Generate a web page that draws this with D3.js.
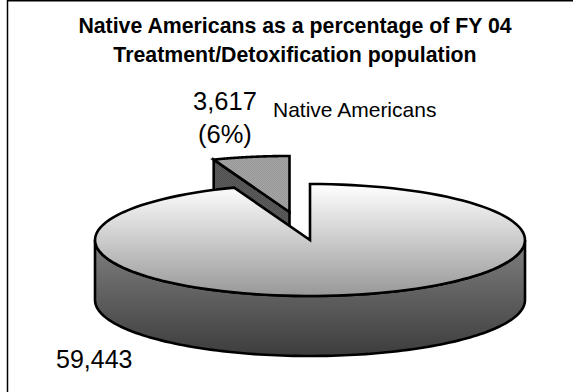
<!DOCTYPE html>
<html>
<head>
<meta charset="utf-8">
<script src="https://cdn.jsdelivr.net/npm/d3@7"></script>
<style>
html,body{margin:0;padding:0;background:#fff}
svg{display:block}
text{font-family:"Liberation Sans",Arial,sans-serif;fill:#000}
</style>
</head>
<body>
<svg id="chart" width="573" height="392"></svg>
<script>
// FY 04 Treatment/Detoxification population
const categories = ["Native Americans", "Other"];
const populations = [3617, 59443];
const valueLabels = ["3,617", "(6%)", "59,443"];
const titleLines = ["Native Americans as a percentage of FY 04", "Treatment/Detoxification population"];

const width = 573, height = 392;
const svg = d3.select("#chart");
const defs = svg.append("defs");

function linearGradient(id, stops, y1, y2) {
  const g = defs.append("linearGradient").attr("id", id)
    .attr("gradientUnits", "userSpaceOnUse")
    .attr("x1", 0).attr("x2", 0).attr("y1", y1).attr("y2", y2);
  stops.forEach(([o, c]) => g.append("stop").attr("offset", o).attr("stop-color", c));
}

function dotted(id, base, dot) {
  const p = defs.append("pattern").attr("id", id)
    .attr("patternUnits", "userSpaceOnUse").attr("width", 2).attr("height", 2);
  p.append("rect").attr("width", 2).attr("height", 2).attr("fill", base);
  p.append("rect").attr("width", 1).attr("height", 1).attr("fill", dot);
  p.append("rect").attr("x", 1).attr("y", 1).attr("width", 1).attr("height", 1).attr("fill", dot);
}

// Pie geometry: a tilted disc with an elliptical rim
const cx = 310, cy = 240, depth = 60;
const rx = d3.scaleLinear().domain([0, 1]).range([0, 215]);
const ry = d3.scaleLinear().domain([0, 1]).range([0, 56]);
const explode = { dx: -20.5, dy: -28 };

const slices = d3.pie().sort(null)
  .startAngle(-2 * Math.PI * populations[0] / d3.sum(populations))
  .endAngle(2 * Math.PI - 2 * Math.PI * populations[0] / d3.sum(populations))(populations);

const px = (a, ox = 0) => cx + ox + rx(Math.sin(a));
const py = (a, oy = 0) => cy + oy - ry(Math.cos(a));
const line = d3.line();
const rim = (a0, a1, ox = 0, oy = 0) =>
  d3.range(0, 121).map(i => {
    const a = a0 + (a1 - a0) * i / 120;
    return [px(a, ox), py(a, oy)];
  });

linearGradient("topFill", [[0, "#ffffff"], [1, "#989898"]], 184, 296);
linearGradient("sideFill", [[0, "#808080"], [1, "#3c3c3c"]], 240, 357);
dotted("sliceTop", "#a6a6a6", "#969696");
dotted("sliceWall", "#5c5c5c", "#505050");

const outline = { stroke: "#000", "stroke-width": 2.6, "stroke-linejoin": "miter" };
const styled = (sel, attrs) => { Object.entries(attrs).forEach(([k, v]) => sel.attr(k, v)); return sel; };

// Outer frame
svg.append("path").attr("fill", "none").attr("stroke", "#000").attr("stroke-width", 1.5)
  .attr("d", `M7.5,392V0.75H573`);

// Title
svg.append("g").selectAll("text").data(titleLines).join("text")
  .attr("x", 295).attr("y", (d, i) => 33 + i * 29)
  .attr("text-anchor", "middle").attr("font-weight", "bold").attr("font-size", 21.3)
  .text(d => d);

// Exploded slice: cut wall first, then its top face
const small = slices[0];
const ex = explode.dx, ey = explode.dy;
const apex = [cx + ex, cy + ey];
const leftCorner = [px(small.startAngle, ex), py(small.startAngle, ey)];
styled(svg.append("path"), outline).attr("fill", "url(#sliceWall)")
  .attr("d", line([leftCorner, apex, [apex[0], apex[1] + depth], [leftCorner[0], leftCorner[1] + depth]]) + "Z");
styled(svg.append("path"), outline).attr("fill", "url(#sliceTop)")
  .attr("d", line([apex, ...rim(small.startAngle, small.endAngle, ex, ey)]) + "Z");

// Main slice: front wall, then top face
const big = slices[1];
const frontTop = rim(Math.PI / 2, 3 * Math.PI / 2);
const frontBottom = frontTop.map(([x, y]) => [x, y + depth]).reverse();
styled(svg.append("path"), outline).attr("fill", "url(#sideFill)")
  .attr("d", line([...frontTop, ...frontBottom]) + "Z");
styled(svg.append("path"), outline).attr("fill", "url(#topFill)")
  .attr("d", line([[cx, cy], ...rim(big.startAngle, big.endAngle)]) + "Z");

// Labels
const label = (x, y, size, t) => svg.append("text").attr("x", x).attr("y", y).attr("font-size", size).text(t);
label(193, 110, 25.5, valueLabels[0]);
label(198, 143, 25.5, valueLabels[1]);
label(273, 117, 21, categories[0]);
label(56, 368, 25, valueLabels[2]);
</script>
</body>
</html>
